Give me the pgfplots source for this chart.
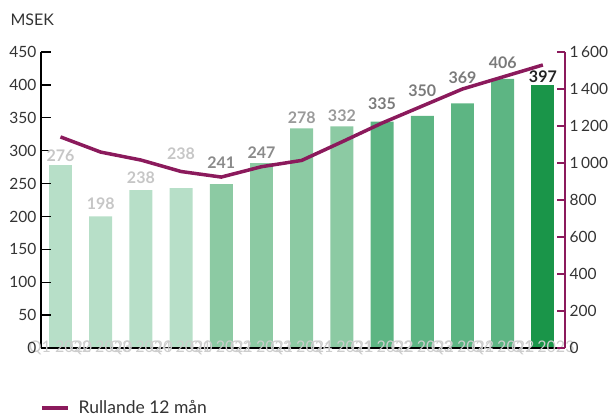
\documentclass[border=0pt]{standalone}
\usepackage{pgfplots}
\pgfplotsset{compat=1.18}
\usepackage{fontspec}
\setmainfont{Lato}
\definecolor{barA}{HTML}{B7DFC8}
\definecolor{barB}{HTML}{8CCAA3}
\definecolor{barC}{HTML}{5DB583}
\definecolor{barD}{HTML}{1A9549}
\definecolor{linep}{HTML}{8B1A5C}
\definecolor{tickgray}{HTML}{333333}
\definecolor{xlab}{HTML}{CDCDCD}
\definecolor{labA}{HTML}{C6C6C6}
\definecolor{labB}{HTML}{8A8A8A}
\definecolor{labC}{HTML}{9A9A9A}
\definecolor{labD}{HTML}{7A7A7A}
\definecolor{labE}{HTML}{222222}
\begin{document}
\begin{tikzpicture}
\useasboundingbox (-41pt,-70pt) rectangle (571pt,348pt);
\pgfplotsset{
  common/.style={
    scale only axis, width=524pt, height=296pt,
    at={(0pt,0pt)}, anchor=south west,
    xmin=-0.485, xmax=12.55,
    /pgf/number format/assume math mode=true,
    tick align=inside,
    ticklabel style={font=\fontsize{15.5}{18}\selectfont, text=tickgray},
  }
}
\begin{axis}[common,
  axis x line*=bottom, axis y line*=left,
  axis line style={black, line width=2.2pt},
  axis on top,
  ymin=0, ymax=450, ytick={0,50,...,450},
  major tick length=10pt,
  ytick style={black, line width=1.3pt},
  xtick={0,...,12},
  xtick style={draw=none},
  xticklabels={Q1 2020,Q2 2020,Q3 2020,Q4 2020,Q1 2021,Q2 2021,Q3 2021,Q4 2021,Q1 2022,Q2 2022,Q3 2022,Q4 2022,Q1 2023},
  xticklabel style={anchor=center, yshift=0pt, text=xlab, font=\fontsize{16}{18}\selectfont},
  yticklabel style={xshift=-1pt},
  clip=false,
  nodes near coords style={font=\fontsize{16}{18}\selectfont\bfseries},
]
\addplot[ybar, bar width=0.57, bar shift=0pt, fill=barA, draw=none] coordinates {(0,278) (1,200) (2,240) (3,243)};
\addplot[ybar, bar width=0.57, bar shift=0pt, fill=barB, draw=none] coordinates {(4,249) (5,281) (6,334) (7,337)};
\addplot[ybar, bar width=0.57, bar shift=0pt, fill=barC, draw=none] coordinates {(8,344) (9,353) (10,372) (11,409)};
\addplot[ybar, bar width=0.57, bar shift=0pt, fill=barD, draw=none] coordinates {(12,400)};
% value labels
\addplot[draw=none, mark=none, nodes near coords, point meta=explicit symbolic, nodes near coords align=center, every node near coord/.append style={text=labA}]
  coordinates {(0,292)[276] (1,220)[198] (2,259)[238] (3,296)[238]};
\addplot[draw=none, mark=none, nodes near coords, point meta=explicit symbolic, nodes near coords align=center, every node near coord/.append style={text=labB}]
  coordinates {(4,282)[241] (5,297)[247]};
\addplot[draw=none, mark=none, nodes near coords, point meta=explicit symbolic, nodes near coords align=center, every node near coord/.append style={text=labC}]
  coordinates {(6,350)[278] (7,353)[332]};
\addplot[draw=none, mark=none, nodes near coords, point meta=explicit symbolic, nodes near coords align=center, every node near coord/.append style={text=labD}]
  coordinates {(8,371)[335] (9,391)[350] (10,411)[369] (11,433)[406]};
\addplot[draw=none, mark=none, nodes near coords, point meta=explicit symbolic, nodes near coords align=center, every node near coord/.append style={text=labE}]
  coordinates {(12,412)[397]};
\end{axis}
\begin{axis}[common,
  axis x line=none, axis y line*=right,
  axis line style={linep, line width=2.2pt},
  ymin=0, ymax=1600, ytick={0,200,...,1600},
  yticklabels={0,200,400,600,800,1\,000,1\,200,1\,400,1\,600},
  major tick length=8pt,
  ytick style={linep, line width=1.3pt},
  yticklabel style={xshift=1pt},
  legend style={at={(axis description cs:0,-0.2027)}, anchor=west, draw=none, fill=none,
    font=\fontsize{17.5}{20}\selectfont, text=tickgray, xshift=-4pt},
  legend image code/.code={\draw[#1, line width=3.5pt] (0pt,0pt) -- (26pt,0pt); \path (33pt,0pt);},
  legend cell align=left,
]
\addplot[linep, line width=3.5pt, mark=none, line join=round] coordinates {
(0,1141) (1,1059) (2,1016) (3,954) (4,924) (5,980) (6,1014) (7,1114) (8,1216) (9,1308) (10,1400) (11,1465) (12,1530)};
\addlegendentry{Rullande 12 mån}
\end{axis}
\node[anchor=base west, font=\fontsize{16}{18}\selectfont, text=tickgray] at (-34pt,322pt) {MSEK};
\end{tikzpicture}
\end{document}
